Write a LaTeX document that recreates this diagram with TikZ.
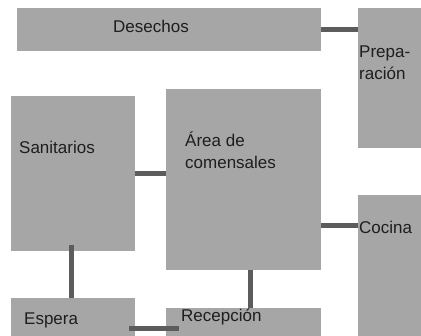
\documentclass[tikz,border=0pt]{standalone}
\usepackage{fontspec}
\setmainfont{Liberation Sans}
\usetikzlibrary{calc}
\definecolor{boxgray}{HTML}{A6A6A6}
\definecolor{conngray}{HTML}{5C5C5C}
\definecolor{txt}{HTML}{1E1E1E}
\begin{document}
\begin{tikzpicture}[x=1pt,y=-1pt,
  room/.style={fill=boxgray,draw=none,inner sep=0pt,outer sep=0pt,anchor=north west},
  conn/.style={draw=conngray,line width=5pt},
  lbl/.style={anchor=base west,inner sep=0pt,text=txt,font=\fontsize{17}{22}\selectfont}]
\useasboundingbox[fill=white] (0,0) rectangle (421,336);
% rooms
\node[room,minimum width=304pt,minimum height=43pt] (des) at (17,8) {};
\node[room,minimum width=63pt,minimum height=140pt] (prep) at (358,8) {};
\node[room,minimum width=124pt,minimum height=155pt] (san) at (11,96) {};
\node[room,minimum width=155pt,minimum height=181pt] (area) at (166,89) {};
\node[room,minimum width=63pt,minimum height=141pt] (coc) at (358,195) {};
\node[room,minimum width=124pt,minimum height=38pt] (esp) at (11,298) {};
\node[room,minimum width=155pt,minimum height=28pt] (rec) at (166,308) {};
% connectors
\draw[conn] (des.east) -- (des.east -| prep.west);
\draw[conn] (san.east) -- (san.east -| area.west);
\draw[conn] (area.east |- 0,226) -- (coc.west |- 0,226);
\draw[conn] (71,245) -- (esp.north -| 71,0);
\draw[conn] (area.south -| 250,0) -- (rec.north -| 250,0);
\draw[conn] (129,329) -- (179,329);
% labels
\node[lbl] (tdes) at (113,33) {Desechos};
\node[lbl] (tprep1) at (359,58) {Prepa-};
\node[lbl] (tprep2) at (359,80) {ración};
\node[lbl] (tsan) at (19,154) {Sanitarios};
\node[lbl] (tarea1) at (185,146.5) {Área de};
\node[lbl] (tarea2) at (185,168.5) {comensales};
\node[lbl] (tcoc) at (359,233.5) {Cocina};
\node[lbl] (tesp) at (24,325) {Espera};
\node[lbl] (trec) at (181,321.5) {Recepción};
\end{tikzpicture}
\end{document}
